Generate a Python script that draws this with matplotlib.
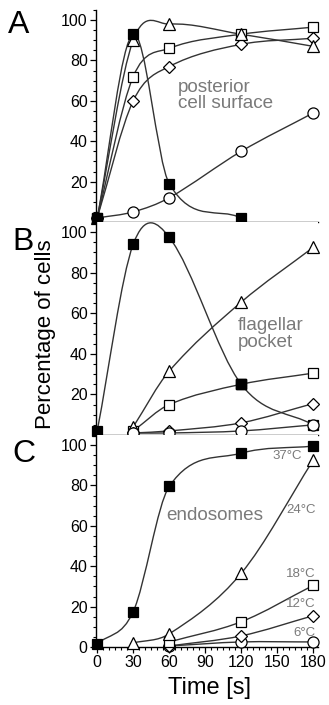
import numpy as np
import matplotlib
matplotlib.use('Agg')
import matplotlib.pyplot as plt
from matplotlib.path import Path
from matplotlib.patches import PathPatch
from matplotlib.ticker import MultipleLocator

plt.rcParams['font.family'] = ['Liberation Sans', 'DejaVu Sans']

# time points [s]
t_all = [0, 30, 60, 120, 180]
t_late = [30, 60, 120, 180]
t_c = [60, 120, 180]

# panel A: posterior cell surface
a_37 = [2, 93, 19, 2]          # filled squares (0..120)
a_24 = [2, 90, 98, 93, 87]     # triangles
a_18 = [2, 72, 86, 93, 96.5]   # open squares
a_12 = [2, 60, 77, 88, 91]     # diamonds
a_6 = [2, 5, 12, 35, 54]       # circles

# panel B: flagellar pocket
b_37 = [2, 94, 97.5, 25, 5]
b_24 = [4, 31.5, 65.5, 92.5]
b_18 = [2, 15, 25, 30.5]
b_12 = [1, 2, 6, 15.5]
b_6 = [1, 1, 2, 5]

# panel C: endosomes
c_37 = [1.5, 17.5, 79.5, 96, 99.5]
c_24 = [2, 6.5, 36.5, 92.5]
c_18 = [2.5, 12.5, 30.5]
c_12 = [0.5, 5.5, 15.5]
c_6 = [0.5, 2.5, 2.5]
temp_labels = ['37°C', '24°C', '18°C', '12°C', '6°C']


def smooth(ax, x, y, z=2):
    # cubic hermite segments drawn as bezier path in data coords
    x = np.asarray(x, float)
    y = np.asarray(y, float)
    n = len(x)
    m = np.zeros(n)
    for i in range(n):
        if i == 0:
            m[i] = (y[1] - y[0]) / (x[1] - x[0])
        elif i == n - 1:
            m[i] = (y[-1] - y[-2]) / (x[-1] - x[-2])
        else:
            m[i] = (y[i + 1] - y[i - 1]) / (x[i + 1] - x[i - 1])
    verts = [(x[0], y[0])]
    codes = [Path.MOVETO]
    for i in range(n - 1):
        h = (x[i + 1] - x[i]) / 3
        verts += [(x[i] + h, y[i] + m[i] * h),
                  (x[i + 1] - h, y[i + 1] - m[i + 1] * h),
                  (x[i + 1], y[i + 1])]
        codes += [Path.CURVE4] * 3
    ax.add_patch(PathPatch(Path(verts, codes), fc='none', ec='#333333',
                           lw=1.0, zorder=z))


def series(ax, x, y, marker, filled=False, ms=7, z=3):
    smooth(ax, x, y, z=2)
    ax.plot(x, y, ls='none', marker=marker, ms=ms, mec='black', mew=0.9,
            mfc='black' if filled else 'white', zorder=z, clip_on=False)


fig = plt.figure(figsize=(3.29, 7.05), dpi=100)
left, width = 96 / 329, 222 / 329
axA = fig.add_axes([left, 1 - 222 / 705, width, 212 / 705])
axB = fig.add_axes([left, 1 - 435 / 705, width, 213 / 705])
axC = fig.add_axes([left, 1 - 647 / 705, width, 212 / 705])

for ax in (axA, axB, axC):
    ax.set_xlim(-1, 184)
    ax.set_ylim(0, 105)
    for s in ('top', 'right'):
        ax.spines[s].set_visible(False)
    for s in ('left', 'bottom'):
        ax.spines[s].set_linewidth(1.0)
    ax.xaxis.set_major_locator(MultipleLocator(30))
    ax.xaxis.set_minor_locator(MultipleLocator(5))
    ax.yaxis.set_major_locator(MultipleLocator(20))
    ax.yaxis.set_minor_locator(MultipleLocator(5))
    ax.tick_params(which='major', direction='out', length=4, width=0.9,
                   labelsize=11.5, pad=2)
    ax.tick_params(which='minor', direction='out', length=2.2, width=0.8)

for ax in (axA, axB):
    ax.set_xticklabels([])
    ax.set_yticks([20, 40, 60, 80, 100])
axC.set_yticks([0, 20, 40, 60, 80, 100])
axC.set_xticks([0, 30, 60, 90, 120, 150, 180])

# panel A
series(axA, t_all, a_6, 'o', ms=8)
series(axA, t_all, a_12, 'D', ms=6.5)
series(axA, t_all, a_18, 's', ms=7)
series(axA, t_all, a_24, '^', ms=8)
series(axA, t_all[:4], a_37, 's', filled=True, ms=7, z=4)
axA.text(67, 71, 'posterior\ncell surface', color='#7a7a7a', fontsize=13.6,
         va='top', ha='left', linespacing=0.95)

# panel B
series(axB, t_all, b_37, 's', filled=True, ms=7, z=3)
series(axB, t_late, b_24, '^', ms=8, z=4)
series(axB, t_late, b_18, 's', ms=7, z=3)
series(axB, t_late, b_12, 'D', ms=6.5, z=4)
series(axB, t_late, b_6, 'o', ms=8, z=4)
axB.plot([120], [b_37[3]], ls='none', marker='s', ms=7, mfc='black',
         mec='black', zorder=5)
axB.text(117.5, 58, 'flagellar\npocket', color='#7a7a7a', fontsize=13.6,
         va='top', ha='left', linespacing=0.95)

# panel C
series(axC, t_c, c_6, 'o', ms=8)
series(axC, t_c, c_12, 'D', ms=6.5)
series(axC, t_c, c_18, 's', ms=7)
series(axC, t_late, c_24, '^', ms=8)
series(axC, t_all, c_37, 's', filled=True, ms=7, z=4)
axC.text(98, 65, 'endosomes', color='#7a7a7a', fontsize=13.6,
         va='center', ha='center')
lab_x = [171, 182, 182, 182, 182]
lab_y = [94.5, 68, 36, 21.5, 7]
for lx, ly, lt in zip(lab_x, lab_y, temp_labels):
    axC.text(lx, ly, lt, color='#7a7a7a', fontsize=9.5, ha='right',
             va='center')

fig.text(8 / 329, 1 - 33 / 705, 'A', fontsize=23, va='baseline')
fig.text(12 / 329, 1 - 250 / 705, 'B', fontsize=23, va='baseline')
fig.text(12 / 329, 1 - 462 / 705, 'C', fontsize=23, va='baseline')
fig.text(46 / 329, 1 - 334 / 705, 'Percentage of cells', rotation=90,
         fontsize=16, va='center', ha='center')
fig.text(209.5 / 329, 1 - 688 / 705, 'Time [s]', fontsize=17, va='center',
         ha='center')

fig.savefig('out.png', dpi=100)
